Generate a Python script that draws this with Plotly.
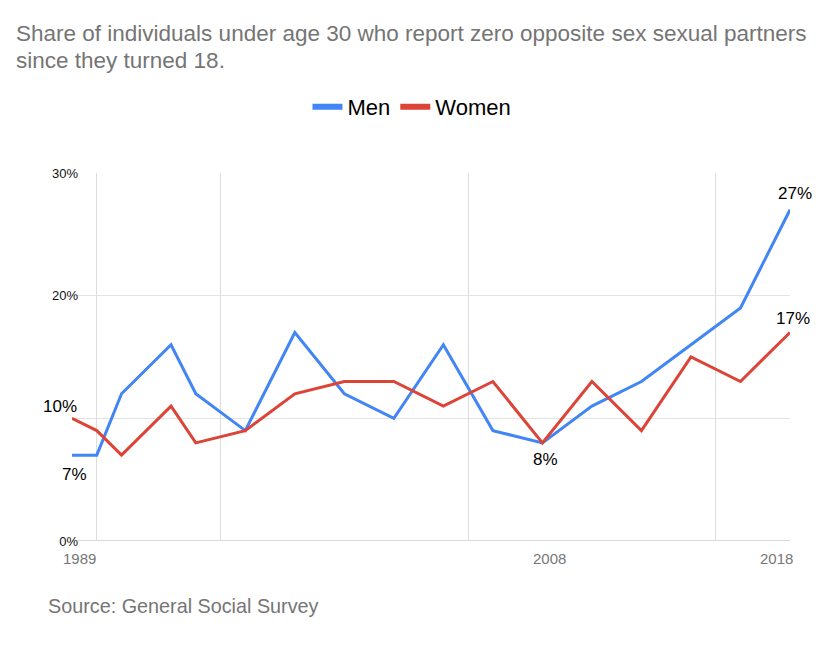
import plotly.graph_objects as go

years = [1989, 1990, 1991, 1993, 1994, 1996, 1998, 2000, 2002, 2004, 2006, 2008, 2010, 2012, 2014, 2016, 2018]
men = [7, 7, 12, 16, 12, 9, 17, 12, 10, 16, 9, 8, 11, 13, 16, 19, 27]
women = [10, 9, 7, 11, 8, 9, 12, 13, 13, 11, 13, 8, 13, 9, 15, 13, 17]

x_tick_vals = [1989, 2008, 2018]
x_tick_text = ["1989", "2008", "2018"]
x_grid_vals = [1990, 1995, 2005, 2015]
y_tick_vals = [0, 20, 30]
y_tick_text = ["0%", "20%", "30%"]
y_grid_vals = [10, 20]

title_lines = ["Share of individuals under age 30 who report zero opposite sex sexual partners",
               "since they turned 18."]
source_text = "Source: General Social Survey"

BLUE = "#4285F4"
RED = "#DB4437"
FONT = "Liberation Sans, Arial, sans-serif"

fig = go.Figure()
fig.add_trace(go.Scatter(x=years, y=men, mode="lines", name="Men",
                         line=dict(color=BLUE, width=3), showlegend=False))
fig.add_trace(go.Scatter(x=years, y=women, mode="lines", name="Women",
                         line=dict(color=RED, width=3), showlegend=False))
# legend entries
fig.add_trace(go.Scatter(x=[None], y=[None], mode="lines", name="Men",
                         line=dict(color=BLUE, width=6)))
fig.add_trace(go.Scatter(x=[None], y=[None], mode="lines", name="Women",
                         line=dict(color=RED, width=6)))

annotations = []
# data labels: (series, index, xshift, yshift)
label_specs = [(women, 0, -12, 12), (men, 0, 2, -19), (men, 11, 3, -17),
               (men, 16, 5, 16), (women, 16, 3, 14)]
for series, i, dx, dy in label_specs:
    annotations.append(dict(x=years[i], y=series[i], xref="x", yref="y",
                            text=f"{series[i]}%", showarrow=False,
                            xshift=dx, yshift=dy,
                            font=dict(family=FONT, size=17, color="#000000")))
# x tick labels
for v, t in zip(x_tick_vals, x_tick_text):
    last = v == x_tick_vals[-1]
    annotations.append(dict(x=v, y=0, xref="x", yref="paper", text=t,
                            showarrow=False, yanchor="middle",
                            xanchor="right" if last else "center",
                            xshift=5 if last else 7, yshift=-17,
                            font=dict(family=FONT, size=15, color="#777777")))
# title lines
for k, line in enumerate(title_lines):
    annotations.append(dict(x=0, y=1, xref="paper", yref="paper", text=line,
                            showarrow=False, xanchor="left", yanchor="middle",
                            xshift=-58, yshift=140 - 27 * k,
                            font=dict(family=FONT, size=22.5, color="#757575")))
# source
annotations.append(dict(x=0, y=0, xref="paper", yref="paper",
                        text=source_text, showarrow=False,
                        xanchor="left", yanchor="middle", xshift=-26, yshift=-65,
                        font=dict(family=FONT, size=19.8, color="#757575")))

fig.update_layout(
    width=828, height=662,
    margin=dict(l=64, r=46, t=165, b=129),
    paper_bgcolor="white", plot_bgcolor="white",
    legend=dict(orientation="h", xref="container", x=404 / 828, xanchor="center",
                yref="container", y=1 - 99 / 662, yanchor="middle",
                font=dict(family=FONT, size=22, color="#000000"),
                itemwidth=30, tracegroupgap=0),
    annotations=annotations,
    xaxis=dict(range=[1989, 2018], showticklabels=False, tickvals=x_tick_vals,
               showgrid=False, zeroline=False, showline=False, ticks="",
               minor=dict(tickvals=x_grid_vals, showgrid=True, gridcolor="#dddddd", gridwidth=1)),
    yaxis=dict(range=[0, 30], tickvals=y_tick_vals, ticktext=y_tick_text,
               showgrid=False, zeroline=False, showline=False, ticks="",
               ticklabelstandoff=-7,
               tickfont=dict(family=FONT, size=13, color="#111111"),
               minor=dict(tickvals=y_grid_vals, showgrid=True, gridcolor="#e3e3e3", gridwidth=1)),
    shapes=[dict(type="line", xref="paper", yref="y", x0=0, x1=1, y0=0, y1=0,
                 line=dict(color="#b0b0b0", width=1), layer="below")],
)

fig.write_html("out.html")
